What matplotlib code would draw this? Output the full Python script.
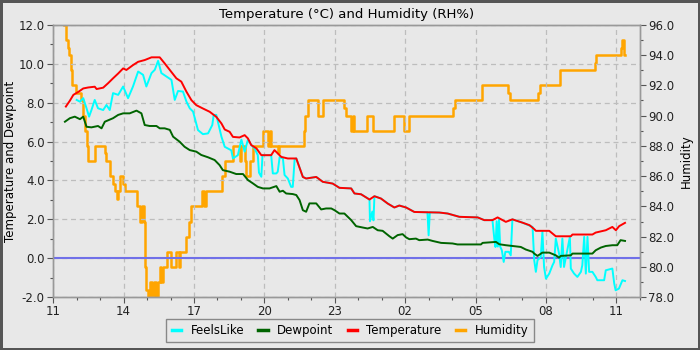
import numpy as np
import matplotlib.pyplot as plt
from matplotlib.ticker import MultipleLocator, FixedLocator, FormatStrFormatter

plt.rcParams['font.family'] = 'DejaVu Sans'

# time axis: hours after 11:00 (day 1) -> 11:00 next day at 24
hour_ticks = [0, 3, 6, 9, 12, 15, 18, 21, 24]
hour_labels = ["11", "14", "17", "20", "23", "02", "05", "08", "11"]

temp_h = [0.54, 0.71, 0.86, 1.08, 1.28, 1.49, 1.77, 1.85, 2.13, 2.34, 2.55, 2.77,
          2.98, 3.12, 3.40, 3.62, 3.90, 4.19, 4.54, 4.75, 4.97, 5.25, 5.46, 5.68,
          5.89, 6.10, 6.38, 6.67, 6.95, 7.17, 7.31, 7.52, 7.66, 7.94, 8.16, 8.30,
          8.44, 8.66, 8.87, 9.29, 9.43, 9.72, 10.0, 10.36, 10.64, 10.78, 11.21,
          11.49, 11.91, 12.2, 12.7, 12.84, 13.12, 13.48, 13.69, 13.97, 14.26,
          14.54, 14.75, 15.04, 15.39, 16.46, 16.81, 17.31, 18.09, 18.37, 18.72,
          18.94, 19.29, 19.57, 20.0, 20.3, 20.5, 20.57, 21.14, 21.42, 22.06,
          22.13, 22.98, 23.12, 23.55, 23.83, 23.98, 24.12, 24.37]
temp_c = [7.8, 8.1, 8.4, 8.56, 8.73, 8.78, 8.82, 8.7, 8.77, 9.0, 9.25, 9.5,
          9.76, 9.68, 9.93, 10.1, 10.19, 10.33, 10.33, 10.02, 9.68, 9.25, 9.08, 8.56,
          8.13, 7.87, 7.7, 7.53, 7.27, 6.93, 6.62, 6.5, 6.24, 6.21, 6.33, 6.16,
          5.82, 5.65, 5.3, 5.3, 5.56, 5.21, 5.13, 5.13, 4.18, 4.1, 4.18,
          3.93, 3.84, 3.62, 3.59, 3.33, 3.29, 3.02, 3.19, 3.07, 2.81,
          2.61, 2.71, 2.61, 2.38, 2.35, 2.3, 2.13, 2.1, 1.96, 1.96,
          2.1, 1.87, 2.0, 1.83, 1.7, 1.5, 1.41, 1.41, 1.13, 1.13,
          1.22, 1.22, 1.32, 1.44, 1.61, 1.44, 1.65, 1.82]

dew_h = [0.5, 0.71, 0.92, 1.14, 1.28, 1.42, 1.63, 1.91, 2.06, 2.2, 2.55, 2.77,
         2.98, 3.26, 3.55, 3.76, 3.9, 4.11, 4.4, 4.54, 4.75, 4.97, 5.11, 5.39,
         5.6, 5.82, 6.1, 6.31, 6.6, 6.88, 7.09, 7.23, 7.52, 7.8, 8.09, 8.3,
         8.51, 8.72, 8.94, 9.22, 9.51, 9.65, 9.79, 9.93, 10.21, 10.36, 10.5,
         10.64, 10.78, 10.92, 11.21, 11.42, 11.63, 11.85, 11.99, 12.2, 12.41,
         12.7, 12.91, 13.19, 13.4, 13.62, 13.83, 14.04, 14.33, 14.47, 14.68,
         14.89, 15.04, 15.18, 15.46, 15.6, 15.96, 16.17, 16.53, 17.02, 17.23,
         18.23, 18.3, 18.87, 19.01, 19.29, 19.65, 19.93, 20.14, 20.43, 20.5,
         20.64, 20.85, 21.14, 21.42, 21.56, 21.63, 22.06, 22.13, 22.98, 23.12,
         23.34, 23.55, 23.83, 24.04, 24.18, 24.37]
dew_c = [7.02, 7.2, 7.28, 7.15, 7.28, 6.76, 6.73, 6.8, 6.68, 7.02, 7.2, 7.37,
         7.45, 7.45, 7.59, 7.45, 6.85, 6.8, 6.8, 6.68, 6.68, 6.6, 6.25, 5.99,
         5.73, 5.56, 5.48, 5.31, 5.19, 5.05, 4.79, 4.53, 4.45, 4.33, 4.33, 4.02,
         3.85, 3.67, 3.59, 3.59, 3.71, 3.42, 3.47, 3.33, 3.3, 3.25, 2.99,
         2.47, 2.39, 2.82, 2.82, 2.51, 2.56, 2.56, 2.47, 2.3, 2.3,
         1.96, 1.65, 1.58, 1.53, 1.61, 1.44, 1.41, 1.13, 1.01, 1.19,
         1.24, 1.07, 0.98, 1.01, 0.93, 0.96, 0.89, 0.79, 0.76, 0.71,
         0.71, 0.79, 0.84, 0.72, 0.67, 0.62, 0.58, 0.45, 0.33, 0.24,
         0.12, 0.29, 0.29, 0.15, 0.03, 0.12, 0.15, 0.24, 0.24, 0.41,
         0.55, 0.63, 0.67, 0.67, 0.93, 0.89]

feels_h = [1.0, 1.14, 1.28, 1.42, 1.53, 1.63, 1.77, 1.91, 2.13, 2.27, 2.41, 2.55,
           2.77, 2.98, 3.19, 3.4, 3.62, 3.83, 3.97, 4.19, 4.33, 4.47, 4.61, 4.83,
           5.04, 5.18, 5.32, 5.53, 5.68, 5.82, 5.96, 6.17, 6.38, 6.6, 6.78, 6.84,
           6.95, 7.17, 7.31, 7.59, 7.66, 7.87, 8.02, 8.16, 8.3, 8.44, 8.58, 8.72,
           8.77, 8.87, 8.92, 9.29, 9.36, 9.51, 9.57, 9.65, 9.79, 9.86, 10.0,
           10.14, 10.21, 10.29, 10.36, 10.64, 10.78, 11.21, 11.49, 11.91, 12.2,
           12.7, 12.84, 13.12, 13.48, 13.5, 13.6, 13.65, 13.69, 13.97, 14.26,
           14.54, 14.75, 15.04, 15.39, 15.95, 16.0, 16.05, 16.46, 16.81, 17.31,
           18.09, 18.37, 18.72, 18.8, 18.85, 18.9, 18.95, 19.0, 19.05, 19.12,
           19.2, 19.27, 19.42, 19.5, 19.57, 20.0, 20.43, 20.5, 20.57, 20.64,
           20.78, 20.85, 20.92, 21.0, 21.14, 21.28, 21.35, 21.42, 21.56, 21.63,
           21.7, 21.77, 21.91, 22.02, 22.06, 22.2, 22.34, 22.49, 22.55, 22.63,
           22.7, 22.77, 22.84, 22.98, 23.12, 23.19, 23.48, 23.55, 23.83, 23.91,
           23.97, 24.11, 24.26, 24.37]
feels_c = [8.14, 8.05, 8.23, 7.71, 7.28, 7.62, 8.14, 7.71, 7.62, 7.88, 7.62, 8.49,
           8.4, 8.83, 8.23, 8.83, 9.6, 9.43, 8.83, 9.52, 9.69, 10.15, 9.52, 9.34,
           9.17, 8.14, 8.6, 8.57, 8.05, 7.71, 7.54, 6.59, 6.38, 6.42, 6.85, 7.37,
           7.37, 6.25, 5.73, 5.55, 5.13, 5.3, 6.1, 5.48, 6.1, 5.82, 5.65, 5.3,
           4.4, 4.19, 5.3, 5.3, 4.36, 4.36, 4.45, 5.2, 5.13, 4.28, 4.1,
           3.67, 3.67, 5.1, 5.13, 4.18, 4.1, 4.18, 3.93, 3.84, 3.62,
           3.59, 3.33, 3.29, 3.02, 1.9, 2.4, 1.95, 3.19, 3.07, 2.81,
           2.61, 2.71, 2.61, 2.38, 2.36, 1.18, 2.36, 2.35, 2.3, 2.13,
           2.1, 1.96, 1.96, 1.0, 0.58, 1.9, 0.6, 2.0, 0.6, 0.41,
           -0.19, 0.33, 0.33, 0.15, 2.0, 1.83, 1.61, -0.1, -0.7, -0.1,
           0.07, 1.36, -0.45, -1.05, -0.79, -0.36, -0.19, 1.01, 0.24, -0.45,
           1.01, -0.45, 0.41, 1.1, -0.53, -0.79, -0.96, -0.7, -0.36, 1.1,
           -0.79, 1.1, -0.7, -0.7, -0.96, -1.13, -1.13, -0.62, -0.53, -1.3,
           -1.65, -1.56, -1.13, -1.17]

hum_h = [0.46, 0.54, 0.61, 0.67, 0.74, 0.80, 0.97, 1.18, 1.28, 1.35, 1.42, 1.49,
         1.80, 2.20, 2.27, 2.41, 2.55, 2.62, 2.72, 2.78, 2.85, 2.97, 3.04, 3.59,
         3.69, 3.78, 3.87, 3.90, 3.93, 3.97, 4.04, 4.11, 4.20, 4.30, 4.40, 4.47,
         4.54, 4.61, 4.68, 4.83, 5.04, 5.22, 5.36, 5.42, 5.68, 5.79, 5.89, 6.36,
         6.41, 6.52, 7.21, 7.31, 7.66, 7.94, 8.02, 8.16, 8.23, 8.37, 8.51, 8.94,
         9.15, 9.22, 9.29, 9.57, 9.64, 10.68, 10.75, 10.85, 11.28, 11.49, 12.41,
         12.48, 12.70, 12.77, 12.84, 13.36, 13.65, 14.51, 14.97, 15.15, 17.06,
         17.12, 18.26, 19.40, 19.48, 20.68, 20.74, 21.59, 23.09, 23.15, 24.18,
         24.23, 24.33, 24.37]
hum_rh = [96.0, 95.0, 94.5, 94.0, 93.0, 92.0, 91.5, 91.0, 90.0, 89.0, 88.0, 87.0,
          88.0, 87.5, 87.0, 86.0, 85.5, 85.0, 84.5, 85.0, 86.0, 85.5, 85.0, 84.0,
          83.0, 84.0, 83.0, 81.5, 80.0, 78.5, 78.0, 79.0, 78.0, 79.0, 78.0, 79.0,
          80.0, 79.0, 80.0, 81.0, 80.0, 81.0, 80.0, 81.0, 82.0, 83.0, 84.0, 85.0,
          84.0, 85.0, 86.0, 87.0, 88.0, 87.0, 88.0, 87.0, 86.0, 87.0, 88.0, 89.0,
          88.0, 89.0, 88.0, 87.5, 88.0, 89.0, 90.0, 91.0, 90.0, 91.0, 90.5,
          90.0, 89.0, 90.0, 89.0, 90.0, 89.0, 90.0, 89.0, 90.0, 90.5,
          91.0, 92.0, 91.5, 91.0, 91.5, 92.0, 93.0, 93.5, 94.0, 94.5,
          95.0, 94.0, 94.0]

bg = '#e8e8e8'
fig = plt.figure(figsize=(7, 3.5), dpi=100, facecolor=bg,
                 edgecolor='#555555', linewidth=2.5)
ax = fig.add_axes([0.076, 0.151, 0.838, 0.778])
ax2 = ax.twinx()

# left axis (temperatures) drawn above humidity
ax.set_zorder(ax2.get_zorder() + 1)
ax.patch.set_visible(False)
ax2.patch.set_visible(True)
ax2.patch.set_facecolor(bg)

lw = 1.4
ax2.plot(hum_h, hum_rh, color='orange', linewidth=1.8, drawstyle='steps-post',
         label='Humidity')

ax.axhline(0, color='#7070e8', linewidth=1.5, zorder=1.5)
ax.plot(feels_h, feels_c, color='cyan', linewidth=lw, label='FeelsLike', zorder=2)
ax.plot(dew_h, dew_c, color='#006400', linewidth=lw, label='Dewpoint', zorder=3)
ax.plot(temp_h, temp_c, color='red', linewidth=lw, label='Temperature', zorder=4)

ax.set_xlim(0, 25)
ax.set_ylim(-2, 12)
ax2.set_ylim(78, 96)

ax.xaxis.set_major_locator(FixedLocator(hour_ticks))
ax.set_xticklabels(hour_labels)
ax.xaxis.set_minor_locator(MultipleLocator(1))
ax.yaxis.set_major_locator(MultipleLocator(2))
ax.yaxis.set_minor_locator(MultipleLocator(1))
ax.yaxis.set_major_formatter(FormatStrFormatter('%.1f'))
ax2.yaxis.set_major_locator(MultipleLocator(2))
ax2.yaxis.set_minor_locator(MultipleLocator(1))
ax2.yaxis.set_major_formatter(FormatStrFormatter('%.1f'))

for a in (ax, ax2):
    a.tick_params(which='major', length=4, width=0.8, color='#555555',
                  labelsize=8.5, labelcolor='#222222', pad=2)
    a.tick_params(which='minor', length=2, width=0.8, color='#555555')
    for s in a.spines.values():
        s.set_color('#999999')
        s.set_linewidth(1)

ax.grid(True, which='major', color='#bdbdbd', linestyle=(0, (4, 3)), linewidth=0.9)
ax.set_axisbelow(True)

ax.set_title('Temperature (°C) and Humidity (RH%)', fontsize=9.5, pad=5)
ax.set_ylabel('Temperature and Dewpoint', fontsize=8.5)
ax2.set_ylabel('Humidity', fontsize=8.5)
ax.yaxis.set_label_coords(-0.062, 0.5)
ax2.yaxis.set_label_coords(1.068, 0.5)

handles = ax.get_lines()[1:] + ax2.get_lines()
labels = [h.get_label() for h in handles]
leg = fig.legend(handles, labels, loc='lower center', bbox_to_anchor=(0.5, 0.005),
                 ncol=4, fontsize=8.5, frameon=True, fancybox=False,
                 handlelength=0.8, handletextpad=0.8, columnspacing=1.2,
                 borderpad=0.45, edgecolor='#888888', facecolor=bg, framealpha=1)
for line in leg.get_lines():
    line.set_linewidth(2.5)

fig.savefig('out.png', dpi=100, facecolor=fig.get_facecolor(),
            edgecolor=fig.get_edgecolor())
